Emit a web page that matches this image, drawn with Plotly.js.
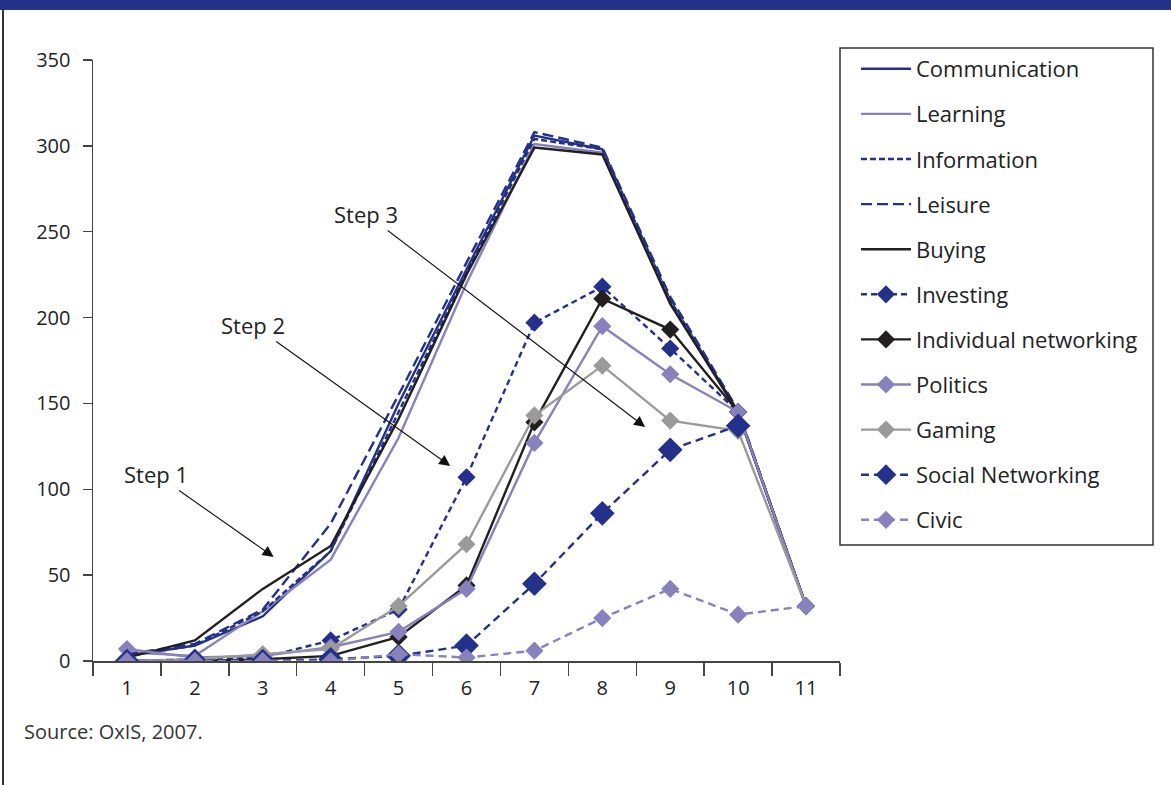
<!DOCTYPE html>
<html>
<head>
<meta charset="utf-8">
<script src="https://cdn.plot.ly/plotly-3.0.1.min.js"></script>
<style>
  html, body { margin: 0; padding: 0; background: #fff; }
  #wrap { position: relative; width: 1171px; height: 785px; overflow: hidden; }
  #band { position: absolute; left: 0; top: 0; width: 1171px; height: 10px; background: #23318a; }
  #lborder { position: absolute; left: 2px; top: 10px; width: 1.5px; height: 775px; background: #333; }
  #chart { position: absolute; left: 0; top: 0; width: 1171px; height: 785px; }
</style>
</head>
<body>
<div id="wrap">
  <div id="chart"></div>
  <div id="band"></div>
  <div id="lborder"></div>
</div>
<script>
const steps = ["1", "2", "3", "4", "5", "6", "7", "8", "9", "10", "11"];

const communication = [3, 9, 26, 64, 150, 228, 306, 298, 210, 145, 32];
const learning = [5, 3, 29, 59, 130, 220, 301, 296, 209, 144, 32];
const information = [3, 9, 29, 64, 145, 226, 304, 298, 210, 145, 32];
const leisure = [4, 10, 30, 80, 155, 232, 308, 299, 212, 146, 32];
const buying = [2, 12, 42, 67, 141, 225, 299, 295, 208, 145, 32];
const investing = [0, 1, 2, 12, 30, 107, 197, 218, 182, 145, 32];
const individualNetworking = [0, 0, 1, 3, 14, 44, 139, 211, 193, 145, 32];
const politics = [7, 2, 3, 8, 17, 42, 127, 195, 167, 145, 32];
const gaming = [0, 1, 4, 7, 32, 68, 143, 172, 140, 134, 32];
const socialNetworking = [0, 0, 0, 1, 3, 9, 45, 86, 123, 137, null];
const civic = [0, 0, 0, 0, 4, 2, 6, 25, 42, 27, 32];

const seriesNames = ["Communication", "Learning", "Information", "Leisure", "Buying",
  "Investing", "Individual networking", "Politics", "Gaming", "Social Networking", "Civic"];

const yTicks = [0, 50, 100, 150, 200, 250, 300, 350];
const sourceNote = "Source: OxIS, 2007.";
const stepLabels = ["Step 1", "Step 2", "Step 3"];

const BLUE = "#23318a";
const LILAC = "#8781bd";
const GREY = "#9a9a9a";
const BLACK = "#231f20";

function tr(name, y, color, dash, marker) {
  const t = {
    x: steps, y: y, name: name, legendgroup: name, type: "scatter",
    mode: marker ? "lines+markers" : "lines",
    line: { color: color, width: 2.4, dash: dash }
  };
  if (marker) t.marker = { symbol: "diamond", size: marker, color: color };
  return t;
}

const data = [
  tr(seriesNames[0], communication, BLUE, "solid"),
  tr(seriesNames[1], learning, LILAC, "solid"),
  tr(seriesNames[2], information, BLUE, "6px,3px"),
  tr(seriesNames[3], leisure, BLUE, "11px,5px"),
  tr(seriesNames[4], buying, BLACK, "solid"),
  tr(seriesNames[5], investing, BLUE, "6px,4px", 14),
  tr(seriesNames[6], individualNetworking, BLACK, "solid", 14),
  tr(seriesNames[7], politics, LILAC, "solid", 14),
  tr(seriesNames[8], gaming, GREY, "solid", 14),
  tr(seriesNames[9], socialNetworking, BLUE, "8px,5px", 19),
  tr(seriesNames[10], civic, LILAC, "8px,5px", 14)
];

const FONT = "Open Sans, Noto Sans, sans-serif";

function stepAnn(text, x, y, ax, ay) {
  return {
    x: x, y: y, xref: "x", yref: "y", ax: ax, ay: ay, text: text,
    showarrow: true, arrowhead: 2, arrowsize: 2, arrowwidth: 1.1, arrowcolor: "#111",
    font: { family: FONT, size: 22, color: "#222" }
  };
}

const layout = {
  width: 1171, height: 785,
  margin: { l: 93, r: 331, t: 60, b: 124 },
  paper_bgcolor: "#fff", plot_bgcolor: "#fff",
  font: { family: FONT, size: 20, color: "#222" },
  showlegend: true,
  xaxis: {
    type: "category", range: [-0.5, 10.5],
    showgrid: false, zeroline: false,
    showline: true, linecolor: "#444", linewidth: 1.5,
    ticks: "outside", ticklen: 13, tickwidth: 1.5, tickcolor: "#444",
    tickson: "boundaries", ticklabelstandoff: 8,
    tickfont: { family: FONT, size: 20, color: "#222" }
  },
  yaxis: {
    range: [0, 350], tickvals: yTicks,
    showgrid: false, zeroline: false,
    showline: true, linecolor: "#444", linewidth: 1.5,
    ticks: "outside", ticklen: 9, tickwidth: 1.5, tickcolor: "#444",
    ticklabelstandoff: 8,
    tickfont: { family: FONT, size: 20, color: "#222" }
  },
  legend: {
    x: 1.0214, xanchor: "left", y: 1.02, yanchor: "top",
    borderwidth: 0, bgcolor: "rgba(0,0,0,0)",
    font: { family: FONT, size: 22, color: "#222" },
    traceorder: "grouped", tracegroupgap: 13.5, itemwidth: 50,
    maxheight: 700
  },
  shapes: [
    {
      type: "rect", xref: "paper", yref: "paper",
      x0: 1.0, x1: 1.419, y0: 0.193, y1: 1.02,
      line: { color: "#333", width: 1.5 }, fillcolor: "rgba(0,0,0,0)"
    }
  ],
  annotations: [
    stepAnn(stepLabels[0], 2.16, 60.6, -118, -83),
    stepAnn(stepLabels[1], 4.76, 113.6, -197, -141),
    stepAnn(stepLabels[2], 7.63, 136.3, -279, -213),
    {
      xref: "paper", yref: "paper", x: -0.095, y: -0.1165, xanchor: "left", yanchor: "middle",
      text: sourceNote, showarrow: false,
      font: { family: FONT, size: 20, color: "#333" }
    }
  ]
};

Plotly.newPlot("chart", data, layout, { displayModeBar: false, staticPlot: true });
</script>
</body>
</html>
